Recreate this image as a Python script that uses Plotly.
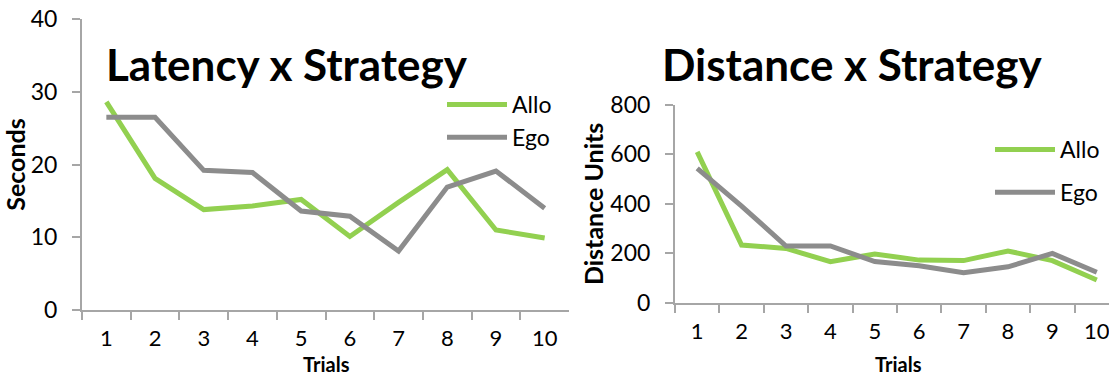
import plotly.graph_objects as go

# Trial numbers shared by both panels
trials = ["1", "2", "3", "4", "5", "6", "7", "8", "9", "10"]

# Latency (seconds) per trial for each navigation strategy
latency_allo = [28.6, 18.1, 13.8, 14.3, 15.2, 10.1, 14.8, 19.3, 11.0, 9.9]
latency_ego = [26.5, 26.5, 19.2, 18.9, 13.6, 12.9, 8.1, 16.9, 19.1, 14.0]

# Path distance (units) per trial for each navigation strategy
distance_allo = [610, 234, 220, 167, 198, 173, 171, 210, 171, 93]
distance_ego = [543, 391, 230, 230, 167, 150, 122, 146, 200, 124]

GREEN = "#92D050"
GREY = "#8C8C8C"
AXIS = "#A6A6A6"
FONT = "Lato"
W, H = 1109, 377


def px_x(p):
    return p / W


def px_y(p):
    return 1 - p / H


fig = go.Figure()

fig.add_trace(go.Scatter(x=trials, y=latency_allo, name="Allo", mode="lines",
                         line=dict(color=GREEN, width=5), xaxis="x", yaxis="y",
                         legend="legend"))
fig.add_trace(go.Scatter(x=trials, y=latency_ego, name="Ego", mode="lines",
                         line=dict(color=GREY, width=5), xaxis="x", yaxis="y",
                         legend="legend"))
fig.add_trace(go.Scatter(x=trials, y=distance_allo, name="Allo", mode="lines",
                         line=dict(color=GREEN, width=5), xaxis="x2", yaxis="y2",
                         legend="legend2", legendgroup="allo"))
fig.add_trace(go.Scatter(x=trials, y=distance_ego, name="Ego", mode="lines",
                         line=dict(color=GREY, width=5), xaxis="x2", yaxis="y2",
                         legend="legend2", legendgroup="ego"))

xtick_font = dict(family=FONT, size=22, color="#000000")
ytick_font = dict(family=FONT, size=23, color="#000000")
title_font = dict(family=FONT, size=25, color="#000000")

xcommon = dict(type="category", showgrid=False, zeroline=False, showline=True,
               automargin=False,
               linecolor=AXIS, linewidth=2, ticks="outside", tickson="boundaries",
               ticklen=8, tickwidth=2, tickcolor=AXIS, tickfont=xtick_font,
               ticklabelstandoff=8)
ycommon = dict(showgrid=False, zeroline=False, showline=True, linecolor=AXIS,
               automargin=False,
               linewidth=2, ticks="outside", ticklen=8, tickwidth=2, tickcolor=AXIS,
               tickfont=ytick_font, ticklabelstandoff=10)

fig.update_layout(
    width=W, height=H,
    margin=dict(l=0, r=0, t=0, b=0, autoexpand=False),
    paper_bgcolor="white", plot_bgcolor="white",
    font=dict(family=FONT, color="#000000"),
    xaxis=dict(xcommon, domain=[px_x(82), px_x(569)], range=[-0.5, 9.5],
               anchor="y"),
    yaxis=dict(ycommon, domain=[px_y(310), px_y(19)], range=[0, 40],
               tickvals=[0, 10, 20, 30, 40], anchor="x",
               title=dict(text="<b>Seconds</b>", font=title_font, standoff=0)),
    xaxis2=dict(xcommon, domain=[px_x(675), 1.0], range=[-0.5, 9.275],
                anchor="y2"),
    yaxis2=dict(ycommon, domain=[px_y(303), px_y(104.7)], range=[0, 800],
                tickvals=[0, 200, 400, 600, 800], anchor="x2",
                title=dict(text="<b>Distance Units</b>", font=title_font, standoff=0)),
    legend=dict(x=px_x(442), y=px_y(83), xanchor="left", yanchor="top",
                bgcolor="rgba(0,0,0,0)", font=dict(family=FONT, size=23),
                itemwidth=60, tracegroupgap=0),
    legend2=dict(x=px_x(990), y=px_y(128), xanchor="left", yanchor="top",
                 bgcolor="rgba(0,0,0,0)", font=dict(family=FONT, size=23),
                 itemwidth=60, tracegroupgap=10),
    showlegend=True,
)

# x-axis titles sit along the bottom edge, under each panel's tick labels
for cx in (326, 898):
    fig.add_annotation(text="<b>Trials</b>", xref="paper", yref="paper",
                       x=px_x(cx), y=0, xanchor="center", yanchor="bottom",
                       borderpad=0, showarrow=False,
                       font=dict(family=FONT, size=20, color="#000000"))

fig.add_annotation(text="<b>Latency x Strategy</b>", xref="paper", yref="paper",
                   x=px_x(287), y=px_y(64), xanchor="center", yanchor="middle",
                   showarrow=False, font=dict(family=FONT, size=44, color="#000000"))
fig.add_annotation(text="<b>Distance x Strategy</b>", xref="paper", yref="paper",
                   x=px_x(852), y=px_y(64), xanchor="center", yanchor="middle",
                   showarrow=False, font=dict(family=FONT, size=44, color="#000000"))

fig.write_html("out.html")
